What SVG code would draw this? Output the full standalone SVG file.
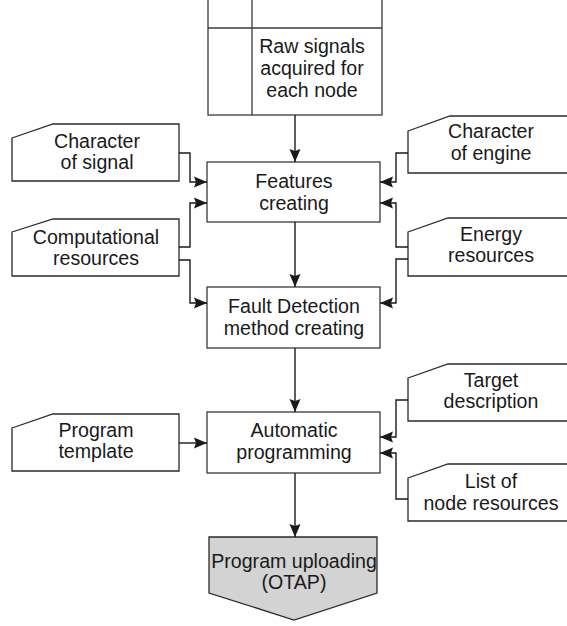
<svg xmlns="http://www.w3.org/2000/svg" width="567" height="626" viewBox="0 0 567 626">
  <defs>
    <marker id="arrow" markerUnits="userSpaceOnUse" markerWidth="14" markerHeight="12" refX="13" refY="6" orient="auto">
      <path d="M0,0.5 L13,6 L0,11.5 L2,6 Z" fill="#1a1a1a"/>
    </marker>
    <style>
      .box { fill: #ffffff; stroke: #3a3a3a; stroke-width: 1.3; }
      .card { fill: #ffffff; stroke: #2a2a2a; stroke-width: 1.3; }
      .out { fill: #d3d3d3; stroke: #2a2a2a; stroke-width: 1.3; }
      .lbl { font-family: "Liberation Sans", Arial, sans-serif; font-size: 19.6px; fill: #1a1a1a; text-anchor: middle; }
      .wire { fill: none; stroke: #1a1a1a; stroke-width: 1.4; }
      .arr { marker-end: url(#arrow); }
    </style>
  </defs>

  <!-- process column -->
  <g id="raw-signals">
    <rect class="box" x="208" y="-2" width="174" height="117"/>
    <line class="box" x1="208" y1="28" x2="382" y2="28"/>
    <line class="box" x1="252" y1="-2" x2="252" y2="115"/>
    <text class="lbl" x="312" y="53">Raw signals</text>
    <text class="lbl" x="312" y="75">acquired for</text>
    <text class="lbl" x="312" y="97">each node</text>
  </g>

  <g id="features-creating">
    <rect class="box" x="207" y="162" width="173" height="60"/>
    <text class="lbl" x="294" y="188">Features</text>
    <text class="lbl" x="294" y="210">creating</text>
  </g>

  <g id="fault-detection">
    <rect class="box" x="207" y="287" width="173" height="61"/>
    <text class="lbl" x="294" y="313">Fault Detection</text>
    <text class="lbl" x="294" y="335">method creating</text>
  </g>

  <g id="automatic-programming">
    <rect class="box" x="207" y="412" width="173" height="61"/>
    <text class="lbl" x="294" y="437">Automatic</text>
    <text class="lbl" x="294" y="459">programming</text>
  </g>

  <g id="program-uploading">
    <path class="out" d="M209,537 L377,537 L377,593 L294,620 L209,593 Z"/>
    <text class="lbl" x="294" y="568">Program uploading</text>
    <text class="lbl" x="294" y="589">(OTAP)</text>
  </g>

  <!-- left inputs -->
  <g id="character-of-signal">
    <path class="card" d="M12,138 L53,124 L179,124 L179,181 L12,181 Z"/>
    <text class="lbl" x="97" y="148">Character</text>
    <text class="lbl" x="97" y="169">of signal</text>
  </g>

  <g id="computational-resources">
    <path class="card" d="M12,232 L53,219 L179,219 L179,276 L12,276 Z"/>
    <text class="lbl" x="96" y="244">Computational</text>
    <text class="lbl" x="96" y="265">resources</text>
  </g>

  <g id="program-template">
    <path class="card" d="M12,428 L53,414 L179,414 L179,471 L12,471 Z"/>
    <text class="lbl" x="96" y="437">Program</text>
    <text class="lbl" x="96" y="458">template</text>
  </g>

  <!-- right inputs -->
  <g id="character-of-engine">
    <path class="card" d="M408,131 L450,116 L576,116 L576,173 L408,173 Z"/>
    <text class="lbl" x="491" y="138">Character</text>
    <text class="lbl" x="491" y="160">of engine</text>
  </g>

  <g id="energy-resources">
    <path class="card" d="M408,232 L448,218 L576,218 L576,276 L408,276 Z"/>
    <text class="lbl" x="491" y="241">Energy</text>
    <text class="lbl" x="491" y="262">resources</text>
  </g>

  <g id="target-description">
    <path class="card" d="M408,378 L448,364 L576,364 L576,421 L408,421 Z"/>
    <text class="lbl" x="491" y="387">Target</text>
    <text class="lbl" x="491" y="408">description</text>
  </g>

  <g id="list-of-node-resources">
    <path class="card" d="M408,478 L448,464 L576,464 L576,521 L408,521 Z"/>
    <text class="lbl" x="491" y="488">List of</text>
    <text class="lbl" x="491" y="510">node resources</text>
  </g>

  <!-- connectors -->
  <g id="connectors">
    <path class="wire arr" d="M295,115 L295,162"/>
    <path class="wire arr" d="M295,222 L295,287"/>
    <path class="wire arr" d="M295,348 L295,412"/>
    <path class="wire arr" d="M295,473 L295,537"/>

    <path class="wire arr" d="M179,153 L190,153 L190,182 L207,182"/>
    <path class="wire arr" d="M179,247 L190,247 L190,203 L207,203"/>
    <path class="wire arr" d="M179,260 L190,260 L190,303 L207,303"/>
    <path class="wire arr" d="M179,443 L207,443"/>

    <path class="wire arr" d="M408,153 L396,153 L396,182 L380,182"/>
    <path class="wire arr" d="M408,247 L396,247 L396,203 L380,203"/>
    <path class="wire arr" d="M408,259 L396,259 L396,303 L380,303"/>
    <path class="wire arr" d="M408,400 L396,400 L396,437 L380,437"/>
    <path class="wire arr" d="M408,499 L396,499 L396,453 L380,453"/>
  </g>
</svg>
